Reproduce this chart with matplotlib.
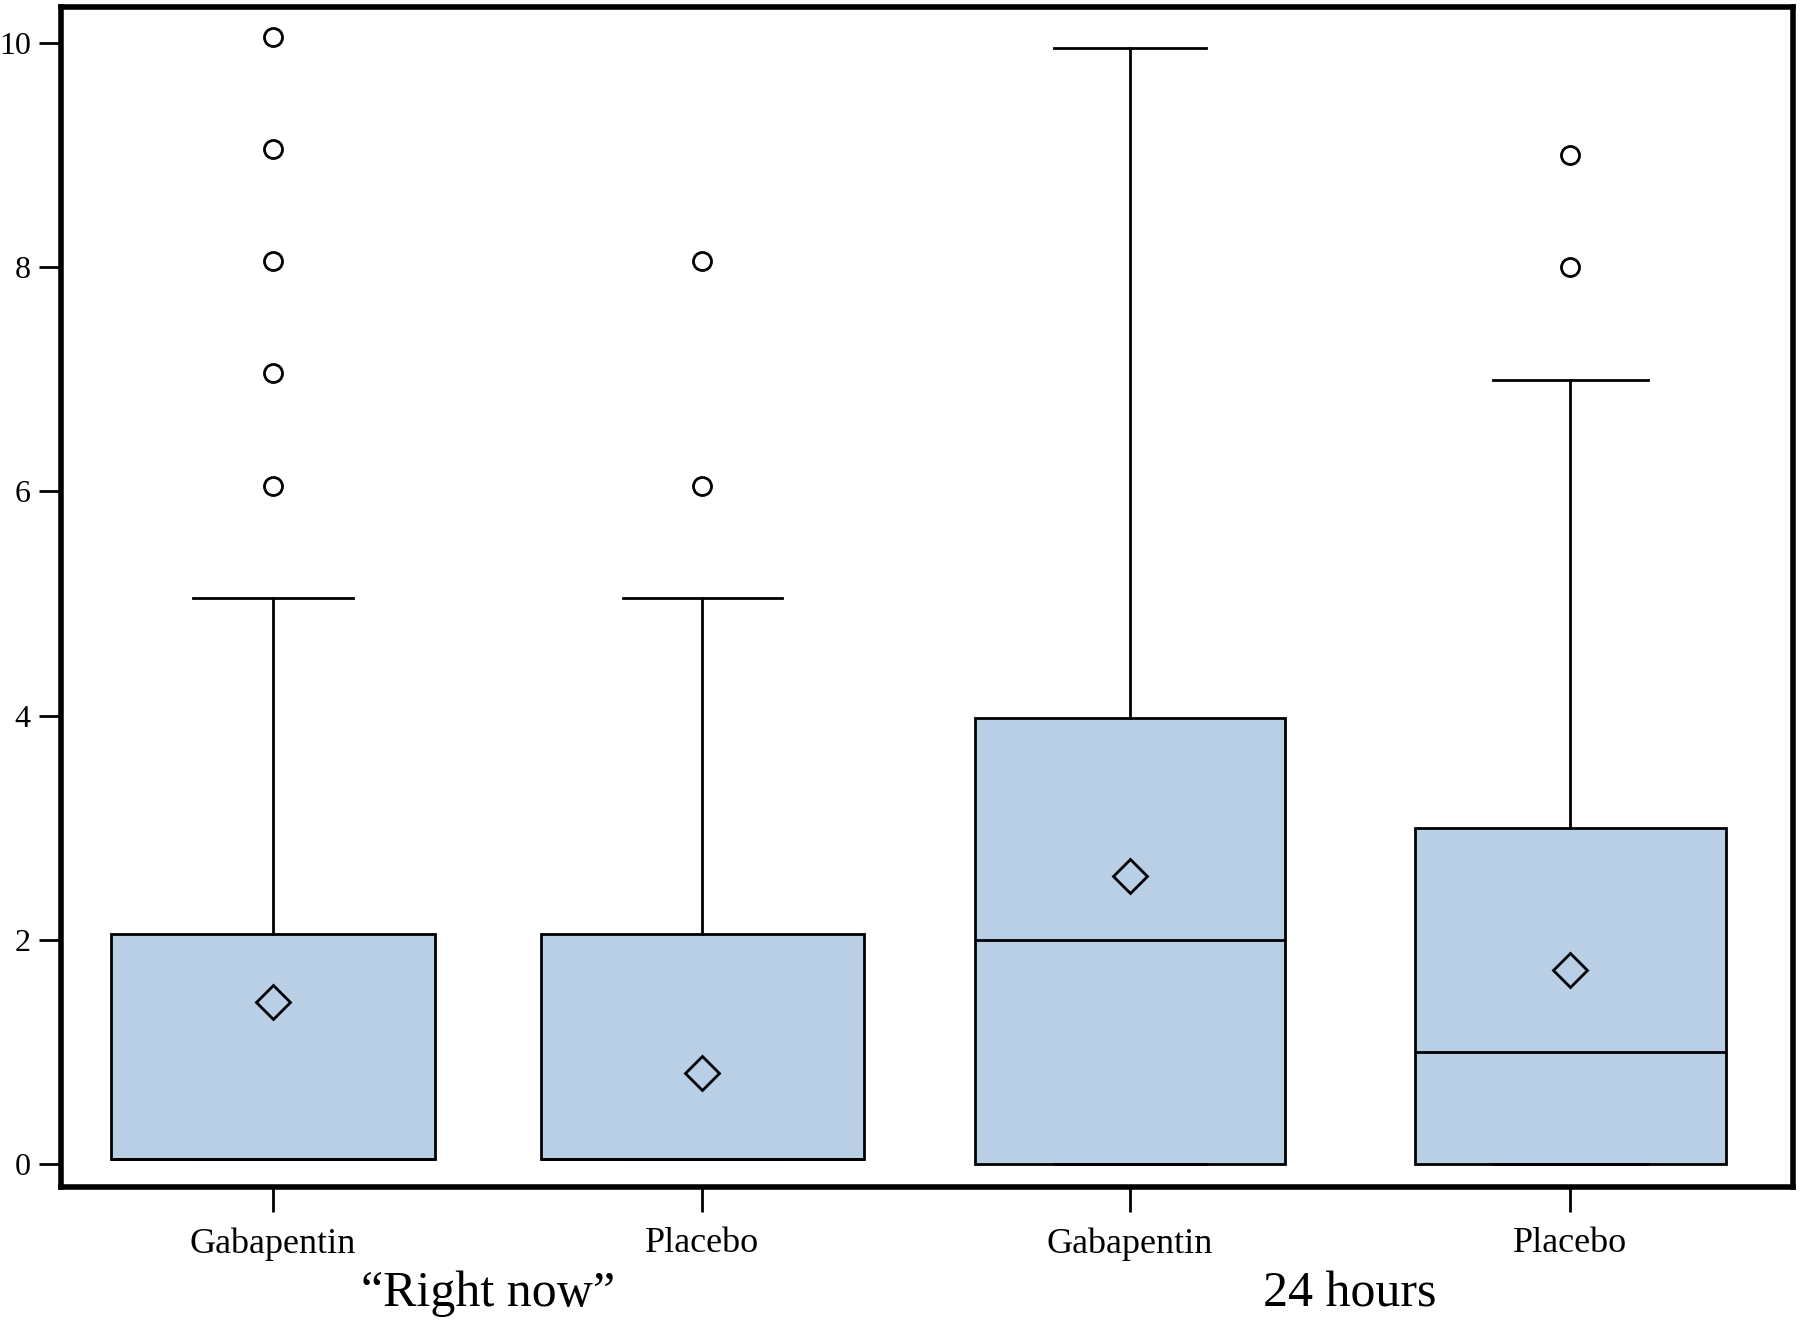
import matplotlib
matplotlib.use('Agg')
import matplotlib.pyplot as plt

plt.rcParams['font.family'] = ['Liberation Serif', 'DejaVu Serif']

# values
drugs = ['Gabapentin', 'Placebo', 'Gabapentin', 'Placebo']
groups = ['\u201cRight now\u201d', '24 hours']
q1 = [0.05, 0.05, 0.0, 0.0]
med = [0.05, 0.05, 2.0, 1.0]
q3 = [2.05, 2.05, 3.98, 3.0]
whislo = [0.05, 0.05, 0.0, 0.0]
whishi = [5.05, 5.05, 9.95, 6.99]
means = [1.45, 0.81, 2.57, 1.73]
fliers = [[6.05, 7.05, 8.05, 9.05, 10.05], [6.05, 8.05], [], [8.0, 9.0]]

positions = [1, 1.995, 2.985, 4.005]
widths = [0.75, 0.75, 0.72, 0.72]
capw = [0.37, 0.37, 0.35, 0.36]

stats = []
for i in range(4):
    stats.append(dict(q1=q1[i], med=med[i], q3=q3[i], whislo=whislo[i],
                      whishi=whishi[i], mean=means[i], fliers=fliers[i]))

fig = plt.figure(figsize=(18, 13.23), dpi=100)
ax = fig.add_axes([0.034, 0.103, 0.962, 0.892])

box_color = '#b9cfe6'
bp = ax.bxp(stats, positions=positions, widths=widths, patch_artist=True,
            showmeans=True, showfliers=True,
            boxprops=dict(facecolor=box_color, edgecolor='black', linewidth=2),
            medianprops=dict(color='black', linewidth=2),
            whiskerprops=dict(color='black', linewidth=2),
            capprops=dict(color='black', linewidth=2),
            meanprops=dict(marker='D', markerfacecolor='none', markeredgecolor='black',
                           markersize=17, markeredgewidth=2),
            flierprops=dict(marker='o', markerfacecolor='none', markeredgecolor='black',
                            markersize=13, markeredgewidth=2))

# cap widths
for i, cap in enumerate(bp['caps']):
    k = i // 2
    cap.set_xdata([positions[k] - capw[k] / 2, positions[k] + capw[k] / 2])

ax.set_xlim(0.51, 4.52)
ax.set_ylim(-0.2, 10.32)
ax.set_yticks([0, 2, 4, 6, 8, 10])
ax.set_xticks(positions)
ax.set_xticklabels(drugs)

for s in ax.spines.values():
    s.set_linewidth(4)
ax.tick_params(axis='y', length=16, width=2, labelsize=23, pad=6)
ax.tick_params(axis='x', length=18, width=2, labelsize=26, pad=11)

for j, g in enumerate(groups):
    x = (positions[2 * j] + positions[2 * j + 1]) / 2
    ax.text(x, -0.091, g, transform=ax.get_xaxis_transform(), ha='center',
            va='center', fontsize=36)

fig.savefig('out.png', dpi=100)
